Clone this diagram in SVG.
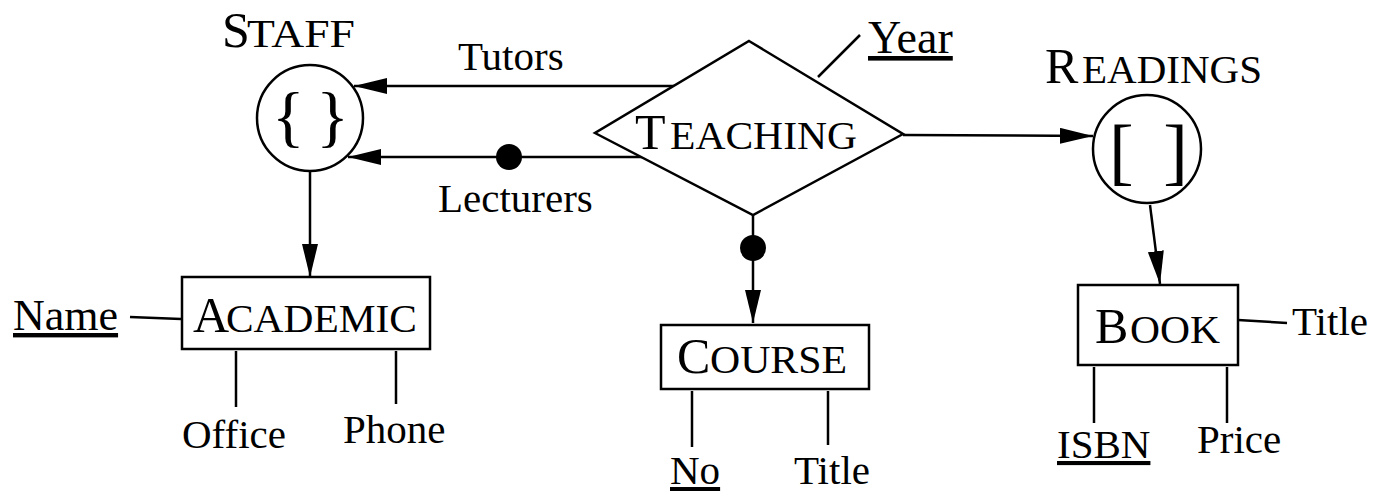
<svg xmlns="http://www.w3.org/2000/svg" width="1373" height="491" viewBox="0 0 1373 491">
<style>
text{font-family:"Liberation Serif","Times New Roman",serif;font-size:41px;fill:#000}
.big{font-size:50px}
.shape{fill:#fff;stroke:#000;stroke-width:2.5}
.ln{fill:none;stroke:#000;stroke-width:2.5}
.dot{fill:#000}
</style>
<defs>
<marker id="arr" markerUnits="userSpaceOnUse" markerWidth="34" markerHeight="18" refX="33" refY="8" orient="auto">
<path d="M0,0 L33,8 L0,16 Z" fill="#000"/>
</marker>
</defs>
<g id="connectors">
<line class="ln" x1="675" y1="86" x2="354" y2="86" marker-end="url(#arr)"/>
<line class="ln" x1="642" y1="157" x2="348" y2="157" marker-end="url(#arr)"/>
<circle class="dot" cx="509" cy="157" r="13"/>
<line class="ln" x1="903" y1="135" x2="1093" y2="136" marker-end="url(#arr)"/>
<line class="ln" x1="753" y1="215" x2="753" y2="323" marker-end="url(#arr)"/>
<circle class="dot" cx="753" cy="248" r="13"/>
<line class="ln" x1="310" y1="172" x2="310" y2="277" marker-end="url(#arr)"/>
<line class="ln" x1="1150" y1="205" x2="1160" y2="284" marker-end="url(#arr)"/>
<line class="ln" x1="818" y1="77" x2="860" y2="35"/>
<line class="ln" x1="130" y1="317" x2="181" y2="319"/>
<line class="ln" x1="236" y1="351" x2="236" y2="407"/>
<line class="ln" x1="396" y1="351" x2="396" y2="404"/>
<line class="ln" x1="692" y1="391" x2="692" y2="447"/>
<line class="ln" x1="828" y1="391" x2="828" y2="445"/>
<line class="ln" x1="1238" y1="320" x2="1287" y2="323"/>
<line class="ln" x1="1094" y1="367" x2="1094" y2="423"/>
<line class="ln" x1="1227" y1="367" x2="1227" y2="423"/>
</g>
<g id="staff">
<circle class="shape" cx="310" cy="118" r="53"/>
<text x="272" y="139" style="font-size:68px">{</text>
<text x="349" y="139" text-anchor="end" style="font-size:68px">}</text>
<text y="47"><tspan x="222" class="big">S</tspan><tspan x="247" textLength="108" lengthAdjust="spacingAndGlyphs">TAFF</tspan></text>
</g>
<g id="teaching">
<polygon class="shape" points="749,41 903,134 753,215 595,133"/>
<text y="149"><tspan x="635" class="big">T</tspan><tspan x="670" textLength="187" lengthAdjust="spacingAndGlyphs">EACHING</tspan></text>
</g>
<g id="readings">
<circle class="shape" cx="1147" cy="149" r="54"/>
<text x="1109" y="176" style="font-size:74px">[</text>
<text x="1188" y="176" text-anchor="end" style="font-size:74px">]</text>
<text y="83"><tspan x="1045" class="big">R</tspan><tspan x="1082" textLength="180" lengthAdjust="spacingAndGlyphs">EADINGS</tspan></text>
</g>
<g id="academic">
<rect class="shape" x="182" y="277" width="248" height="72"/>
<text y="332"><tspan x="193" class="big">A</tspan><tspan x="226" textLength="191" lengthAdjust="spacingAndGlyphs">CADEMIC</tspan></text>
</g>
<g id="course">
<rect class="shape" x="661" y="325" width="208" height="64"/>
<text y="373"><tspan x="677" class="big">C</tspan><tspan x="710" textLength="137" lengthAdjust="spacingAndGlyphs">OURSE</tspan></text>
</g>
<g id="book">
<rect class="shape" x="1078" y="285" width="160" height="80"/>
<text y="343"><tspan x="1095" class="big">B</tspan><tspan x="1130" textLength="90" lengthAdjust="spacingAndGlyphs">OOK</tspan></text>
</g>
<g id="attr-tutors"><text x="458" y="70">Tutors</text></g>
<g id="attr-lecturers"><text x="438" y="212">Lecturers</text></g>
<g id="attr-year"><text x="868" y="53" style="font-size:46px" text-decoration="underline">Year</text></g>
<g id="attr-name"><text x="13" y="330" style="font-size:44px" text-decoration="underline">Name</text></g>
<g id="attr-office"><text x="182" y="448">Office</text></g>
<g id="attr-phone"><text x="343" y="443">Phone</text></g>
<g id="attr-no"><text x="670" y="484" text-decoration="underline">No</text></g>
<g id="attr-course-title"><text x="794" y="484">Title</text></g>
<g id="attr-book-title"><text x="1292" y="335">Title</text></g>
<g id="attr-isbn"><text x="1057" y="458" text-decoration="underline">ISBN</text></g>
<g id="attr-price"><text x="1197" y="453">Price</text></g>
</svg>
